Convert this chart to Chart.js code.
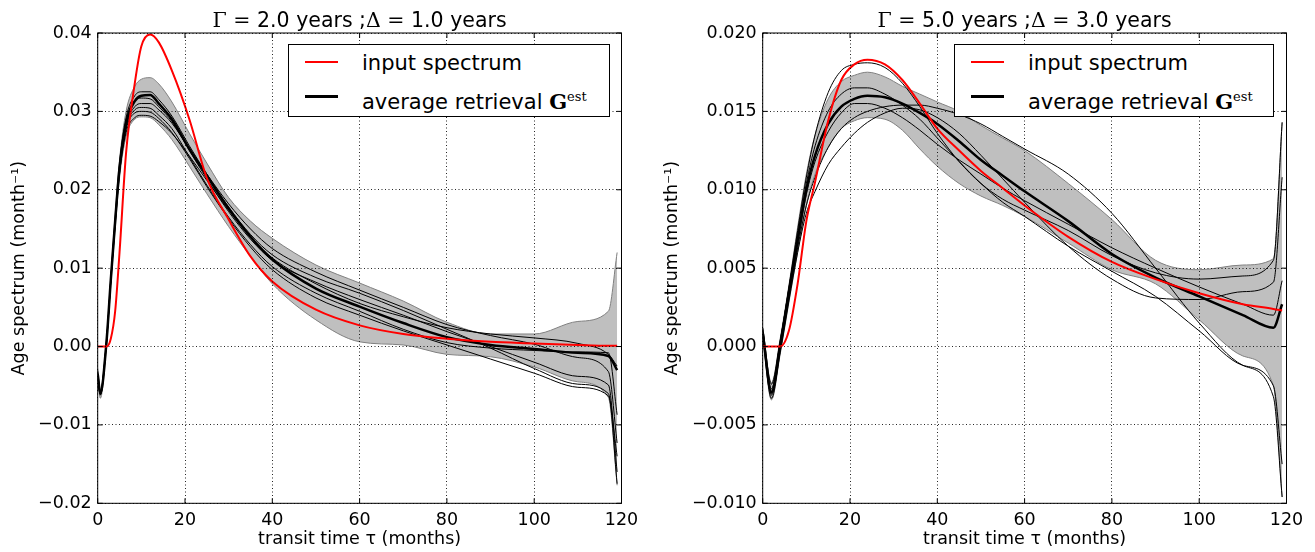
<!DOCTYPE html>
<html>
<head>
<meta charset="utf-8">
<script src="https://cdn.jsdelivr.net/npm/chart.js@4.4.1/dist/chart.umd.min.js"></script>
<style>
  body { margin: 0; background: #fff; }
  #wrap { position: relative; width: 1315px; height: 552px; font-family: 'DejaVu Sans'; color: #000; }
  .pane { position: absolute; top: 0; }
  .ttl { position: absolute; top: 9.5px; font-size: 20.5px; line-height: 1; white-space: nowrap; transform: translateX(-50%); }
  .m { font-family: 'DejaVu Serif'; }
  .leg { position: absolute; top: 44px; height: 73px; border: 1px solid #000; background: #fff; box-sizing: border-box; font-size: 21px; z-index: 2; }
  .leg .sw { position: absolute; left: 16px; width: 33px; }
  .leg .tx { position: absolute; left: 73px; line-height: 24px; white-space: nowrap; }
  .leg sup { font-family: 'DejaVu Serif'; font-size: 13px; vertical-align: 8px; }
</style>
</head>
<body>
<div id="wrap">
  <canvas id="left" class="pane" style="left:0" width="640" height="552"></canvas>
  <canvas id="right" class="pane" style="left:640px" width="675" height="552"></canvas>

  <div class="ttl" style="left:359.6px"><span class="m">Γ = </span>2.0 years ;<span class="m">Δ = </span>1.0 years</div>
  <div class="ttl" style="left:1024.6px"><span class="m">Γ = </span>5.0 years ;<span class="m">Δ = </span>3.0 years</div>

  <div class="leg" style="left:288px; width:322px">
    <div class="sw" style="top:16px; height:2px; background:#ff0000"></div>
    <div class="tx" style="top:6px">input spectrum</div>
    <div class="sw" style="top:50px; height:3px; background:#000"></div>
    <div class="tx" style="top:40px">average retrieval <b class="m">G</b><sup>est</sup></div>
  </div>
  <div class="leg" style="left:954px; width:320px">
    <div class="sw" style="top:16px; height:2px; background:#ff0000"></div>
    <div class="tx" style="top:6px">input spectrum</div>
    <div class="sw" style="top:50px; height:3px; background:#000"></div>
    <div class="tx" style="top:40px">average retrieval <b class="m">G</b><sup>est</sup></div>
  </div>
</div>

<script>
// left panel: Gamma = 2 yr, Delta = 1 yr
const monthsL = [0, 0.6, 2, 3, 4, 5, 6.5, 8.5, 10, 12, 14, 17, 21, 25, 30, 35, 40, 50, 60, 70, 80, 90, 100, 110, 117, 119];
const inputL = [0, 0, 0, 0.0010, 0.0045, 0.0120, 0.0247, 0.0336, 0.0383, 0.0398, 0.0388, 0.0352, 0.0290, 0.0215, 0.0162, 0.0115, 0.0083, 0.0047, 0.0027, 0.0016, 0.0010, 0.0006, 0.0004, 0.0002, 0.0001, 0.0001];
const avgL = [-0.0035, -0.0060, 0.0005, 0.0085, 0.0160, 0.0228, 0.0285, 0.0313, 0.0320, 0.0321, 0.0310, 0.0290, 0.0252, 0.0218, 0.0176, 0.0140, 0.0111, 0.0074, 0.0051, 0.0030, 0.0012, 0.0002, -0.0003, -0.0008, -0.0012, -0.0030];
const bandHiL = [-0.0028, -0.0054, 0.0010, 0.0090, 0.0168, 0.0238, 0.0300, 0.0332, 0.0341, 0.0343, 0.0335, 0.0312, 0.0272, 0.0234, 0.0190, 0.0160, 0.0138, 0.0104, 0.0081, 0.0058, 0.0031, 0.0016, 0.0016, 0.0032, 0.0045, 0.0120];
const bandLoL = [-0.0043, -0.0066, -0.0001, 0.0078, 0.0150, 0.0215, 0.0268, 0.0290, 0.0293, 0.0292, 0.0283, 0.0264, 0.0230, 0.0195, 0.0153, 0.0115, 0.0080, 0.0034, 0.0006, 0.0002, -0.0010, -0.0013, -0.0026, -0.0045, -0.0065, -0.0177];
const runsL = [
  [-0.0040, -0.0062, 0.0004, 0.0086, 0.0163, 0.0233, 0.0292, 0.0320, 0.0325, 0.0325, 0.0315, 0.0294, 0.0256, 0.0220, 0.0178, 0.0143, 0.0117, 0.0088, 0.0068, 0.0046, 0.0022, -0.0002, -0.0028, -0.0048, -0.0060, -0.0175],
  [-0.0033, -0.0058, 0.0006, 0.0085, 0.0160, 0.0230, 0.0288, 0.0314, 0.0317, 0.0316, 0.0306, 0.0287, 0.0250, 0.0214, 0.0172, 0.0137, 0.0110, 0.0082, 0.0060, 0.0040, 0.0019, 0.0000, -0.0020, -0.0038, -0.0049, -0.0160],
  [-0.0037, -0.0060, 0.0005, 0.0084, 0.0158, 0.0226, 0.0282, 0.0306, 0.0310, 0.0310, 0.0302, 0.0285, 0.0252, 0.0220, 0.0182, 0.0150, 0.0125, 0.0095, 0.0072, 0.0050, 0.0028, 0.0014, 0.0003, -0.0014, -0.0032, -0.0123],
  [-0.0031, -0.0057, 0.0006, 0.0085, 0.0159, 0.0226, 0.0280, 0.0302, 0.0305, 0.0304, 0.0295, 0.0278, 0.0242, 0.0206, 0.0165, 0.0130, 0.0102, 0.0068, 0.0045, 0.0022, 0.0005, -0.0002, -0.0005, -0.0007, -0.0008, -0.0087],
  [-0.0039, -0.0061, 0.0004, 0.0083, 0.0156, 0.0222, 0.0277, 0.0298, 0.0300, 0.0299, 0.0291, 0.0273, 0.0240, 0.0204, 0.0163, 0.0127, 0.0098, 0.0062, 0.0040, 0.0020, 0.0002, -0.0016, -0.0034, -0.0052, -0.0063, -0.0140],
  [-0.0035, -0.0059, 0.0005, 0.0083, 0.0155, 0.0220, 0.0273, 0.0292, 0.0295, 0.0294, 0.0287, 0.0272, 0.0243, 0.0212, 0.0174, 0.0140, 0.0113, 0.0080, 0.0055, 0.0038, 0.0024, 0.0016, 0.0011, 0.0004, -0.0010, -0.0025]
];

// right panel: Gamma = 5 yr, Delta = 3 yr
const monthsR = [0, 2, 4, 6, 8, 10, 12, 15, 18, 21, 24, 28, 32, 36, 40, 45, 50, 55, 60, 70, 80, 90, 100, 110, 117, 119];
const inputR = [0, 0, 0, 0.0010, 0.0040, 0.0080, 0.0105, 0.0144, 0.0170, 0.0180, 0.0183, 0.0180, 0.0170, 0.0155, 0.0139, 0.0125, 0.0112, 0.0101, 0.0090, 0.0070, 0.0054, 0.0043, 0.0034, 0.0027, 0.0024, 0.0023];
const avgR = [0.0009, -0.0029, 0.0000, 0.0034, 0.0068, 0.0100, 0.0122, 0.0142, 0.0153, 0.0158, 0.0160, 0.0159, 0.0155, 0.0149, 0.0142, 0.0131, 0.0119, 0.0109, 0.0099, 0.0080, 0.0059, 0.0044, 0.0032, 0.0020, 0.0012, 0.0027];
const bandHiR = [0.0012, -0.0023, 0.0005, 0.0039, 0.0076, 0.0110, 0.0135, 0.0158, 0.0169, 0.0173, 0.0175, 0.0172, 0.0166, 0.0161, 0.0156, 0.0150, 0.0141, 0.0133, 0.0125, 0.0104, 0.0081, 0.0055, 0.0049, 0.0052, 0.0056, 0.0143];
const bandLoR = [0.0006, -0.0034, -0.0005, 0.0028, 0.0060, 0.0090, 0.0110, 0.0127, 0.0139, 0.0144, 0.0146, 0.0145, 0.0138, 0.0126, 0.0115, 0.0104, 0.0096, 0.0090, 0.0083, 0.0066, 0.0049, 0.0040, 0.0017, -0.0006, -0.0025, -0.0096];
const runsR = [
  [0.0010, -0.0027, 0.0003, 0.0038, 0.0074, 0.0108, 0.0135, 0.0162, 0.0176, 0.0180, 0.0181, 0.0178, 0.0168, 0.0153, 0.0136, 0.0118, 0.0104, 0.0094, 0.0087, 0.0074, 0.0058, 0.0047, 0.0043, 0.0045, 0.0055, 0.0143],
  [0.0012, -0.0024, 0.0004, 0.0037, 0.0071, 0.0104, 0.0128, 0.0150, 0.0161, 0.0165, 0.0165, 0.0161, 0.0154, 0.0145, 0.0133, 0.0118, 0.0104, 0.0092, 0.0083, 0.0064, 0.0048, 0.0032, 0.0010, -0.0012, -0.0025, -0.0075],
  [0.0008, -0.0030, -0.0001, 0.0033, 0.0066, 0.0097, 0.0118, 0.0137, 0.0149, 0.0155, 0.0155, 0.0152, 0.0146, 0.0138, 0.0129, 0.0119, 0.0110, 0.0101, 0.0093, 0.0078, 0.0063, 0.0050, 0.0038, 0.0027, 0.0020, 0.0042],
  [0.0011, -0.0031, -0.0002, 0.0031, 0.0063, 0.0090, 0.0108, 0.0127, 0.0139, 0.0146, 0.0150, 0.0153, 0.0154, 0.0154, 0.0152, 0.0148, 0.0142, 0.0134, 0.0126, 0.0110, 0.0085, 0.0050, 0.0015, -0.0012, -0.0032, -0.0096],
  [0.0007, -0.0033, -0.0004, 0.0029, 0.0060, 0.0085, 0.0099, 0.0116, 0.0127, 0.0136, 0.0143, 0.0149, 0.0152, 0.0151, 0.0146, 0.0136, 0.0122, 0.0107, 0.0092, 0.0064, 0.0043, 0.0031, 0.0030, 0.0035, 0.0041, 0.0108]
];

const xTicks = [0, 20, 40, 60, 80, 100, 120];

Chart.defaults.font.family = 'DejaVu Sans';
Chart.defaults.font.size = 17.5;
Chart.defaults.color = '#000';

// box round the plot + inward ticks on all four sides
const frame = {
  id: 'frame',
  afterDraw(chart) {
    const { ctx, chartArea: a, scales } = chart;
    ctx.save();
    ctx.strokeStyle = '#000';
    ctx.lineWidth = 1;
    ctx.strokeRect(a.left, a.top, a.right - a.left, a.bottom - a.top);
    ctx.beginPath();
    scales.x.ticks.forEach((t, i) => {
      const p = scales.x.getPixelForTick(i);
      ctx.moveTo(p, a.bottom); ctx.lineTo(p, a.bottom - 5);
      ctx.moveTo(p, a.top); ctx.lineTo(p, a.top + 5);
    });
    scales.y.ticks.forEach((t, i) => {
      const p = scales.y.getPixelForTick(i);
      ctx.moveTo(a.left, p); ctx.lineTo(a.left + 5, p);
      ctx.moveTo(a.right, p); ctx.lineTo(a.right - 5, p);
    });
    ctx.stroke();
    ctx.restore();
  }
};

function pts(xs, ys) {
  return xs.map((x, i) => ({ x: x, y: ys[i] }));
}

// fixed axis boxes so both plot areas sit where the reference has them
function fixBox(s, w, h) {
  if (w != null) s.width = w;
  if (h != null) s.height = h;
  s.paddingLeft = 0; s.paddingRight = 0; s.paddingTop = 0; s.paddingBottom = 0;
}

function makeChart(id, months, input, avg, hi, lo, runs, ymin, ymax, ystep, dec, box) {
  const line = { pointRadius: 0, fill: false, cubicInterpolationMode: 'monotone' };
  const datasets = [
    Object.assign({}, line, { data: pts(months, hi), borderColor: '#808080', borderWidth: 1, backgroundColor: '#bfbfbf', fill: '+1', order: 10 }),
    Object.assign({}, line, { data: pts(months, lo), borderColor: '#808080', borderWidth: 1, order: 9 })
  ];
  runs.forEach(r => {
    datasets.push(Object.assign({}, line, { data: pts(months, r), borderColor: '#000', borderWidth: 1, order: 5 }));
  });
  datasets.push(Object.assign({}, line, { data: pts(months, avg), borderColor: '#000', borderWidth: 2.5, order: 2 }));
  datasets.push(Object.assign({}, line, { data: pts(months, input), borderColor: '#ff0000', borderWidth: 2, order: 1 }));

  return new Chart(document.getElementById(id), {
    type: 'line',
    data: { datasets: datasets },
    options: {
      responsive: false,
      animation: false,
      layout: { padding: { top: 33, right: box.right, left: 0, bottom: 0 } },
      plugins: { legend: { display: false }, tooltip: { enabled: false } },
      scales: {
        x: {
          type: 'linear', min: 0, max: 120,
          afterBuildTicks: s => { s.ticks = xTicks.map(v => ({ value: v })); },
          afterFit: s => fixBox(s, null, 48.7),
          grid: { color: 'rgba(0,0,0,0.85)', lineWidth: 1, drawTicks: false, z: 1 },
          border: { display: false, dash: [1, 2.5] },
          ticks: { padding: 7, callback: v => String(v) },
          title: { display: true, text: 'transit time τ (months)', padding: { top: 0, bottom: 2 } }
        },
        y: {
          min: ymin, max: ymax,
          ticks: { stepSize: ystep, padding: 6, callback: v => (Math.abs(v) < 1e-9 ? 0 : v).toFixed(dec).replace('-', '\u2212') },
          afterFit: s => fixBox(s, box.left, null),
          grid: { color: 'rgba(0,0,0,0.85)', lineWidth: 1, drawTicks: false, z: 1 },
          border: { display: false, dash: [1, 2.5] },
          title: { display: true, text: 'Age spectrum (month⁻¹)', padding: { top: box.ytitle, bottom: 0 } }
        }
      }
    },
    plugins: [frame]
  });
}

makeChart('left', monthsL, inputL, avgL, bandHiL, bandLoL, runsL, -0.02, 0.04, 0.01, 2, { left: 97.7, right: 18.5, ytitle: 9 });
makeChart('right', monthsR, inputR, avgR, bandHiR, bandLoR, runsR, -0.01, 0.02, 0.005, 3, { left: 122.7, right: 28.5, ytitle: 22 });
</script>
</body>
</html>
